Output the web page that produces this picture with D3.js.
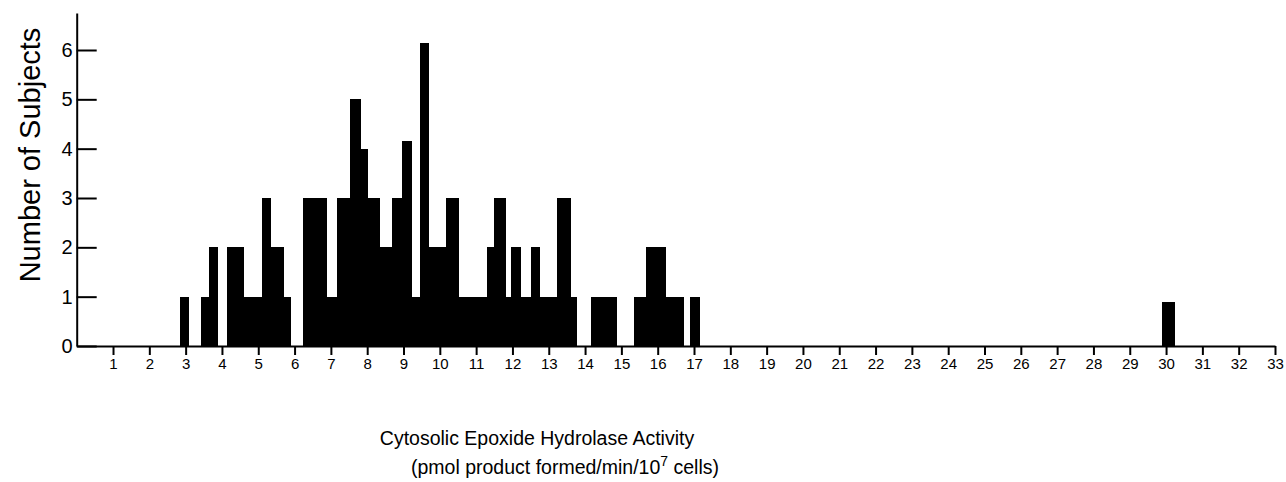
<!DOCTYPE html>
<html>
<head>
<meta charset="utf-8">
<script src="https://cdn.jsdelivr.net/npm/d3@7"></script>
<style>
  body { margin: 0; background: #fff; }
  text { font-family: "Liberation Sans", Arial, Helvetica, sans-serif; }
</style>
</head>
<body>
<svg id="chart" width="1286" height="482"></svg>
<script>
// histogram bins (pmol product formed/min/10^7 cells)
const binLo = [2.85, 3.41, 3.63, 4.15, 4.61, 5.09, 5.35, 5.71, 6.23, 6.89, 7.18, 7.53, 7.82,
  8.03, 8.34, 8.68, 8.96, 9.24, 9.45, 9.71, 10.17, 10.52, 11.29, 11.49, 11.82, 11.97, 12.24,
  12.5, 12.77, 13.23, 13.6, 14.16, 15.34, 15.68, 16.23, 16.9, 29.9];
const binHi = [3.1, 3.63, 3.89, 4.61, 5.09, 5.35, 5.71, 5.91, 6.89, 7.18, 7.53, 7.82, 8.03,
  8.34, 8.68, 8.96, 9.24, 9.45, 9.71, 10.17, 10.52, 11.29, 11.49, 11.82, 11.97, 12.24, 12.5,
  12.77, 13.23, 13.6, 13.78, 14.89, 15.68, 16.23, 16.72, 17.17, 30.25];
const subjects = [1, 1, 2, 2, 1, 3, 2, 1, 3, 1, 3, 5, 4,
  3, 2, 3, 4.15, 1, 6.15, 2, 3, 1, 2, 3, 1, 2, 1,
  2, 1, 3, 1, 1, 1, 2, 1, 1, 0.9];

const xTicks = d3.range(1, 34);
const yTicks = [0, 1, 2, 3, 4, 5, 6];

const svg = d3.select("#chart");

const x = d3.scaleLinear().domain([0, 33]).range([76.7, 1275]);
const y = d3.scaleLinear().domain([0, 6.75]).range([346, 13]);

const bars = binLo.map((lo, i) => ({ lo, hi: binHi[i], n: subjects[i] }));

// bars
svg
  .append("g")
  .selectAll("rect")
  .data(bars)
  .join("rect")
  .attr("x", (d) => x(d.lo))
  .attr("width", (d) => x(d.hi) - x(d.lo))
  .attr("y", (d) => y(d.n))
  .attr("height", (d) => y(0) - y(d.n))
  .attr("fill", "#000")
  .attr("shape-rendering", "crispEdges");

// x axis, ticks pointing down
const gx = svg
  .append("g")
  .attr("transform", `translate(0,${y(0)})`)
  .call(d3.axisBottom(x).tickValues(xTicks).tickFormat(d3.format("d"))
    .tickSize(9).tickPadding(3).tickSizeOuter(0));

// y axis, ticks pointing into the plot
const gy = svg
  .append("g")
  .attr("transform", `translate(${x(0)},0)`)
  .call(d3.axisLeft(y).tickValues(yTicks).tickFormat(d3.format("d"))
    .tickSize(-20).tickPadding(4).tickSizeOuter(0));

[gx, gy].forEach((g) => {
  g.attr("font-family", null);
  g.select(".domain").attr("stroke", "#000").attr("stroke-width", 2);
  g.selectAll(".tick line").attr("stroke", "#000").attr("stroke-width", 2);
  g.selectAll(".tick text").attr("fill", "#000");
});
gx.selectAll(".tick text").attr("font-size", 15);
gy.selectAll(".tick text").attr("font-size", 20);

// axis titles
svg
  .append("text")
  .attr("transform", "translate(40,155) rotate(-90)")
  .attr("text-anchor", "middle")
  .attr("font-size", 29)
  .text("Number of Subjects");

svg
  .append("text")
  .attr("x", 537)
  .attr("y", 445)
  .attr("text-anchor", "middle")
  .attr("font-size", 19.5)
  .text("Cytosolic Epoxide Hydrolase Activity");

const sub = svg
  .append("text")
  .attr("x", 565)
  .attr("y", 474)
  .attr("text-anchor", "middle")
  .attr("font-size", 19.5);
sub.append("tspan").text("(pmol product formed/min/10");
sub.append("tspan").attr("dy", -8).attr("font-size", 14).text("7");
sub.append("tspan").attr("dy", 8).text(" cells)");
</script>
</body>
</html>
